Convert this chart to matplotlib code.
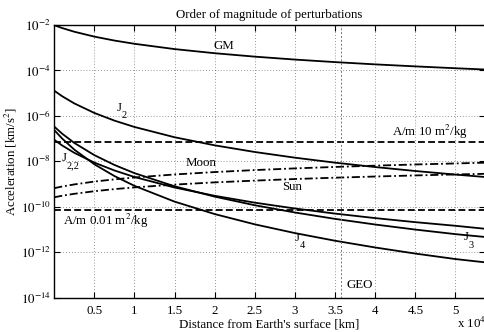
import matplotlib
matplotlib.use("Agg")
import matplotlib.pyplot as plt

plt.rcParams['font.family'] = ['Liberation Serif', 'DejaVu Serif']
plt.rcParams['mathtext.fontset'] = 'stix'

# Distance from Earth's surface, units of 1e4 km
distance = [0, 0.1, 0.25, 0.5, 0.75, 1, 1.5, 2, 2.5, 3, 3.5, 4, 4.5, 5, 5.368]

# Accelerations [km/s^2]
acc_gm = [9.80e-3, 7.33e-3, 5.06e-3, 3.08e-3, 2.07e-3, 1.49e-3, 8.71e-4, 5.73e-4,
          4.05e-4, 3.01e-4, 2.33e-4, 1.85e-4, 1.51e-4, 1.25e-4, 1.10e-4]
acc_j2 = [1.29e-5, 7.31e-6, 3.55e-6, 1.35e-6, 6.21e-7, 3.26e-7, 1.15e-7, 5.07e-8,
          2.58e-8, 1.45e-8, 8.75e-9, 5.61e-9, 3.76e-9, 2.62e-9, 2.05e-9]
acc_j22 = [8.91e-8, 4.98e-8, 2.38e-8, 8.81e-9, 3.98e-9, 2.05e-9, 7.05e-10, 3.05e-10,
           1.52e-10, 8.41e-11, 5.02e-11, 3.18e-11, 2.11e-11, 1.46e-11, 1.08e-11]
acc_j3 = [3.39e-7, 1.64e-7, 6.49e-8, 1.88e-8, 6.95e-9, 3.03e-9, 8.0e-10, 2.80e-10,
          1.17e-10, 5.61e-11, 2.94e-11, 1.66e-11, 9.95e-12, 6.27e-12, 4.70e-12]
acc_j4 = [2.40e-7, 1.00e-7, 3.30e-8, 7.45e-9, 2.26e-9, 8.36e-10, 1.69e-10, 4.79e-11,
          1.69e-11, 6.97e-12, 3.21e-12, 1.62e-12, 8.75e-13, 5.02e-13, 3.60e-13]
acc_moon = [6.61e-10, 7.82e-10, 9.66e-10, 1.29e-9, 1.61e-9, 1.95e-9, 2.65e-9, 3.38e-9,
            4.13e-9, 4.90e-9, 5.68e-9, 6.47e-9, 7.28e-9, 8.09e-9, 8.71e-9]
acc_sun = [2.63e-10, 3.07e-10, 3.73e-10, 4.85e-10, 6.00e-10, 7.14e-10, 9.48e-10, 1.19e-9,
           1.42e-9, 1.67e-9, 1.91e-9, 2.15e-9, 2.40e-9, 2.65e-9, 2.83e-9]
srp_high = 7.2e-8    # A/m 10 m^2/kg
srp_low = 7.2e-11    # A/m 0.01 m^2/kg
geo_distance = 3.5786

xticks = [0.5, 1, 1.5, 2, 2.5, 3, 3.5, 4, 4.5, 5]
xticklabels = ['0.5', '1', '1.5', '2', '2.5', '3', '3.5', '4', '4.5', '5']
yticks = [1e-14, 1e-12, 1e-10, 1e-8, 1e-6, 1e-4, 1e-2]
yticklabels = [r'$10^{-14}$', r'$10^{-12}$', r'$10^{-10}$', r'$10^{-8}$',
               r'$10^{-6}$', r'$10^{-4}$', r'$10^{-2}$']

FS = 9.3
fig = plt.figure(figsize=(4.85, 3.32), dpi=100)
ax = fig.add_axes([0.11175, 0.1033, 0.8882, 0.8214])

lw = 1.3
dash = (0, (3.8, 1.8))
dashdot = (0, (4.5, 1.6, 1.0, 1.6))
for s in (acc_gm, acc_j2, acc_j22, acc_j3, acc_j4):
    ax.plot(distance, s, color='black', lw=lw)
ax.plot(distance, acc_moon, color='black', lw=lw, linestyle=dashdot)
ax.plot(distance, acc_sun, color='black', lw=lw, linestyle=dashdot)
ax.plot([distance[0], distance[-1]], [srp_high, srp_high], color='black', lw=lw, linestyle=dash)
ax.plot([distance[0], distance[-1]], [srp_low, srp_low], color='black', lw=lw, linestyle=dash)
ax.axvline(geo_distance, color='0.45', lw=0.7, linestyle=(0, (2, 2)))

ax.set_yscale('log')
ax.set_xlim(0, 5.3679)
ax.set_ylim(1e-14, 1e-2)
ax.set_xticks(xticks)
ax.set_xticklabels(xticklabels)
ax.set_yticks(yticks)
ax.set_yticklabels(yticklabels)
ax.minorticks_off()
ax.tick_params(direction='in', length=4, width=0.8, labelsize=FS, top=True, right=True, pad=5)
ax.tick_params(axis='y', pad=2.5)
ax.grid(True, color='0.45', linestyle=(0, (1, 2.5)), lw=0.6)
for sp in ax.spines.values():
    sp.set_linewidth(1.0)

ax.set_title('Order of magnitude of perturbations', fontsize=FS, pad=5)
ax.set_xlabel("Distance from Earth's surface [km]", fontsize=FS, labelpad=1)
ax.set_ylabel(r'Acceleration [km/s$^2$]', fontsize=FS)
ax.yaxis.set_label_coords(-0.081, 0.5)
fig.text(0.943, 0.027, r'x 10$^4$', fontsize=FS, ha='left', va='center')


def jlabel(x, y, sub):
    ax.text(x, y, 'J', fontsize=FS, ha='left', va='center')
    ax.annotate(sub, xy=(x, y), xytext=(3.6, -5.5), textcoords='offset points',
                fontsize=FS * 0.8, ha='left', va='center')


ax.text(2.11, 1.2e-3, 'GM', fontsize=FS, ha='center', va='center')
jlabel(0.78, 2.3e-6, '2')
jlabel(0.095, 1.4e-8, '2,2')
ax.text(1.827, 8.9e-9, 'Moon', fontsize=FS, ha='center', va='center')
ax.text(2.965, 7.4e-10, 'Sun', fontsize=FS, ha='center', va='center')
jlabel(3.0, 4.3e-12, '4')
jlabel(5.10, 4.5e-12, '3')
ax.text(3.81, 3.8e-14, 'GEO', fontsize=FS, ha='center', va='center')
ax.text(4.21, 1.9e-7, r'A/m 10 m$^2$/kg', fontsize=FS, ha='left', va='center')
ax.text(0.106, 2.4e-11, r'A/m 0.01 m$^2$/kg', fontsize=FS, ha='left', va='center')

fig.savefig('out.png', dpi=100)
